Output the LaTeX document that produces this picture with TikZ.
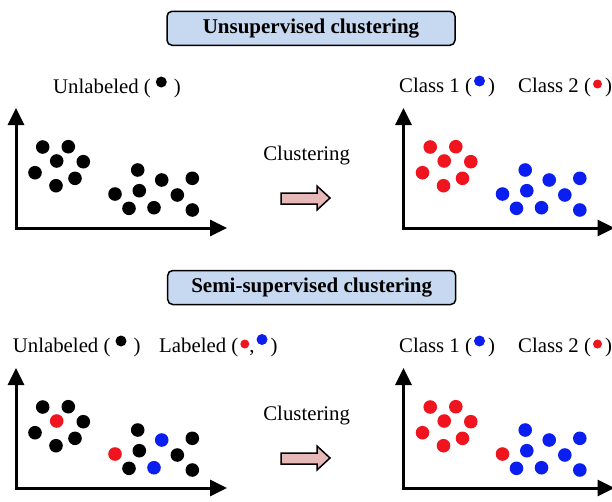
\documentclass[tikz,border=0pt]{standalone}
\usepackage{fontspec}
\setmainfont{Liberation Serif}
\usetikzlibrary{arrows.meta}
\definecolor{boxblue}{RGB}{198,217,240}
\definecolor{arrowpink}{RGB}{230,185,184}
\definecolor{dotred}{RGB}{240,20,30}
\definecolor{dotblue}{RGB}{10,30,240}
% small coloured dot set inline in a legend: colour, radius, height above baseline
\newcommand{\legdot}[3]{\tikz[baseline={(0pt,-#3)}]\fill[#1] (0pt,0pt) circle (#2);}
\tikzset{
  lbl/.style={font=\fontsize{20.8}{24}\selectfont, inner sep=0pt, anchor=base west},
  ctr/.style={font=\fontsize{20.8}{24}\selectfont, inner sep=0pt, anchor=base},
  titlebox/.style={draw, line width=1.5pt, rounded corners=5pt, fill=boxblue,
    minimum width=288pt, minimum height=34pt, inner sep=0pt,
    font=\fontsize{21}{24}\selectfont\bfseries},
  axes/.style={line width=3pt, {Triangle[length=17pt,width=16pt]}-{Triangle[length=17pt,width=16pt]}},
  blockarrow/.style={draw, line width=1.5pt, fill=arrowpink, line join=miter},
}
\begin{document}
\begin{tikzpicture}[x=1pt,y=-1pt]
\useasboundingbox (0,0) rectangle (612,501);
\clip (0,0) rectangle (612,501);

% section titles
\node[titlebox] (t1) at (311,28.3) {Unsupervised clustering};
\node[titlebox] (t2) at (311.7,287.5) {Semi-supervised clustering};

% legends
\node[lbl] (ul1) at (53,93) {Unlabeled (\hspace{5pt}\legdot{black}{5.5pt}{11pt}\hspace{7pt})};
\node[lbl] (c11) at (399,92) {Class 1 (\hspace{2pt}\legdot{dotblue}{5.5pt}{11pt}\hspace{3pt})};
\node[lbl] (c21) at (518,92) {Class 2 (\hspace{2pt}\legdot{dotred}{4.5pt}{8pt}\hspace{3pt})};

\node[lbl] (ul2) at (12.7,352) {Unlabeled (\hspace{5pt}\legdot{black}{5.5pt}{11pt}\hspace{7pt})};
\node[lbl] (lb2) at (159,352) {Labeled (\hspace{2pt}\legdot{dotred}{4.5pt}{8pt},\hspace{2pt}\legdot{dotblue}{5.5pt}{12.5pt}\hspace{3pt})};
\node[lbl] (c12) at (399,352) {Class 1 (\hspace{2pt}\legdot{dotblue}{5.5pt}{11pt}\hspace{3pt})};
\node[lbl] (c22) at (518,352) {Class 2 (\hspace{2pt}\legdot{dotred}{4.5pt}{8pt}\hspace{3pt})};

% clustering step labels and arrows
\node[ctr] (cl1) at (306.7,160.7) {Clustering};
\node[ctr] (cl2) at (306.7,420.7) {Clustering};
\foreach \dy in {0,260}{
  \begin{scope}[yshift=-\dy pt]
    \draw[blockarrow] (281,193) -- (317,193) -- (317,186) -- (330,198)
      -- (317,210) -- (317,204) -- (281,204) -- cycle;
  \end{scope}
}

% axes of the four scatter plots
\foreach \ox/\oy in {16/228, 403.5/228, 16/488, 403.5/488}{
  \draw[axes] (\ox,\oy-120) -- (\ox,\oy) -- (\ox+211,\oy);
}

% scatter points: x offset / y offset / colour for each plot
\def\r{6.8pt}
% top left: all unlabeled
\begin{scope}[shift={(16,228)}]
\foreach \x/\y/\c in {26.7/-81/black, 52.3/-81.3/black, 40.7/-67/black, 67.3/-66.3/black,
  19/-55.3/black, 59/-49.7/black, 40/-42.3/black,
  121.7/-58/black, 145.7/-48/black, 176.3/-49.7/black, 99/-34/black, 123.3/-37.3/black,
  161.3/-33/black, 113/-19.7/black, 138/-20.3/black, 176.3/-18/black}
  \fill[\c] (\x,\y) circle (\r);
\end{scope}
% top right: two classes found
\begin{scope}[shift={(403.5,228)}]
\foreach \x/\y/\c in {26.7/-81/dotred, 52.3/-81.3/dotred, 40.7/-67/dotred, 67.3/-66.3/dotred,
  19/-55.3/dotred, 59/-49.7/dotred, 40/-42.3/dotred,
  121.7/-58/dotblue, 145.7/-48/dotblue, 176.3/-49.7/dotblue, 99/-34/dotblue, 123.3/-37.3/dotblue,
  161.3/-33/dotblue, 113/-19.7/dotblue, 138/-20.3/dotblue, 176.3/-18/dotblue}
  \fill[\c] (\x,\y) circle (\r);
\end{scope}
% bottom left: a few labeled points
\begin{scope}[shift={(16,488)}]
\foreach \x/\y/\c in {26.7/-81/black, 52.3/-81.3/black, 40.7/-67/dotred, 67.3/-66.3/black,
  19/-55.3/black, 59/-49.7/black, 40/-42.3/black,
  121.7/-58/black, 145.7/-48/dotblue, 176.3/-49.7/black, 99/-34/dotred, 123.3/-37.3/black,
  161.3/-33/black, 113/-19.7/black, 138/-20.3/dotblue, 176.3/-18/black}
  \fill[\c] (\x,\y) circle (\r);
\end{scope}
% bottom right: result of semi-supervised clustering
\begin{scope}[shift={(403.5,488)}]
\foreach \x/\y/\c in {26.7/-81/dotred, 52.3/-81.3/dotred, 40.7/-67/dotred, 67.3/-66.3/dotred,
  19/-55.3/dotred, 59/-49.7/dotred, 40/-42.3/dotred,
  121.7/-58/dotblue, 145.7/-48/dotblue, 176.3/-49.7/dotblue, 99/-34/dotred, 123.3/-37.3/dotblue,
  161.3/-33/dotblue, 113/-19.7/dotblue, 138/-20.3/dotblue, 176.3/-18/dotblue}
  \fill[\c] (\x,\y) circle (\r);
\end{scope}
\end{tikzpicture}
\end{document}
